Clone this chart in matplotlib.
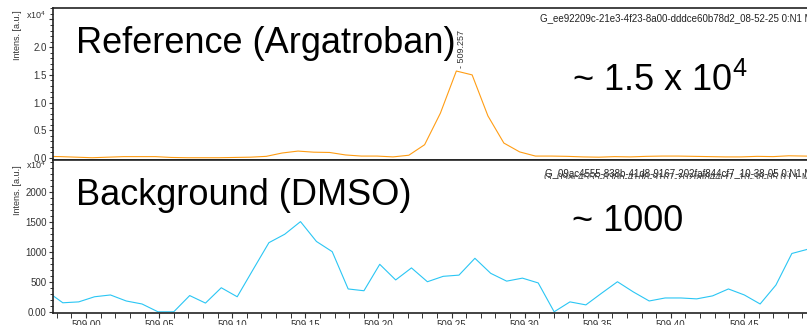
import matplotlib
matplotlib.use('Agg')
import matplotlib.pyplot as plt
from matplotlib.ticker import MultipleLocator, FixedLocator
from matplotlib.transforms import Bbox

plt.rcParams['font.family'] = ['Liberation Sans', 'DejaVu Sans']
plt.rcParams['mathtext.fontset'] = 'custom'
plt.rcParams['mathtext.rm'] = 'Liberation Sans'

# reference spectrum (Argatroban), m/z and intensity
ref_mz = [508.9717, 508.9825, 508.9933, 509.0042, 509.0150, 509.0258, 509.0367, 509.0475,
          509.0583, 509.0692, 509.0800, 509.0908, 509.1016, 509.1125, 509.1233, 509.1341,
          509.1450, 509.1558, 509.1666, 509.1775, 509.1883, 509.1991, 509.2100, 509.2208,
          509.2316, 509.2424, 509.2533, 509.2641, 509.2749, 509.2858, 509.2966, 509.3074,
          509.3183, 509.3291, 509.3399, 509.3508, 509.3616, 509.3724, 509.3832, 509.3941,
          509.4049, 509.4157, 509.4266, 509.4374, 509.4482, 509.4591, 509.4699, 509.4807,
          509.4916, 509.5024]
ref_int = [300, 250, 150, 50, 150, 250, 250, 250, 100, 50, 50, 50, 100, 150, 300, 900,
           1250, 1050, 1000, 550, 350, 350, 200, 500, 2400, 8100, 15700, 15000, 7600, 2700,
           1100, 350, 350, 300, 200, 150, 250, 200, 300, 350, 350, 300, 250, 200, 200, 300,
           250, 400, 350, 300]

# background spectrum (DMSO)
bg_mz = [508.9733, 508.9841, 508.9950, 509.0058, 509.0167, 509.0275, 509.0383, 509.0492,
         509.0600, 509.0709, 509.0817, 509.0925, 509.1034, 509.1142, 509.1251, 509.1359,
         509.1467, 509.1576, 509.1684, 509.1793, 509.1901, 509.2009, 509.2118, 509.2226,
         509.2335, 509.2443, 509.2551, 509.2660, 509.2768, 509.2877, 509.2985, 509.3093,
         509.3202, 509.3310, 509.3419, 509.3527, 509.3635, 509.3744, 509.3852, 509.3961,
         509.4069, 509.4177, 509.4286, 509.4394, 509.4503, 509.4611, 509.4719, 509.4828,
         509.4936]
bg_int = [340, 150, 165, 250, 280, 180, 130, 0, 0, 270, 145, 400, 250, 700, 1150, 1290,
          1500, 1170, 1000, 380, 350, 790, 530, 730, 500, 590, 610, 890, 640, 510, 560, 480,
          0, 165, 115, 310, 500, 330, 180, 230, 230, 215, 265, 380, 280, 130, 445, 970, 1040]

x_ticks = [509.00, 509.05, 509.10, 509.15, 509.20, 509.25, 509.30, 509.35, 509.40, 509.45]
x_ticklabels = ['509.00', '509.05', '509.10', '509.15', '509.20', '509.25', '509.30',
                '509.35', '509.40', '509.45']
ref_yticks = [0, 5000, 10000, 15000, 20000, 25000]
ref_yticklabels = ['0.0', '0.5', '1.0', '1.5', '2.0', '']
bg_yticks = [0, 500, 1000, 1500, 2000]
bg_yticklabels = ['0.00', '500', '1000', '1500', '2000']

peak_mz = 509.257
peak_label = '- 509.257'
ref_header = 'G_ee92209c-21e3-4f23-8a00-dddce60b78d2_08-52-25 0:N1 M'
bg_header = 'G_09ac4555-838b-41d8-9167-202faf844cf7_10-38-05 0:N1 M'
bg_header2 = 'G_09ac4555-838b-41d8-9167-202faf844cf7_10-38-05 0:L1 M'

W, H = 807, 325
fig = plt.figure(figsize=(W / 100, H / 100), dpi=100)

def px_box(left, top, right, bottom):
    # pixel box (from top-left) -> figure fraction rect
    return [left / W, 1 - bottom / H, (right - left) / W, (bottom - top) / H]

ax1 = fig.add_axes(px_box(53, 8, 817, 160))
ax2 = fig.add_axes(px_box(53, 160, 817, 313))

tick_color = '#333333'
for ax in (ax1, ax2):
    ax.set_xlim(508.9774, 509.5)
    for s in ax.spines.values():
        s.set_color('#222222')
        s.set_linewidth(1.2)
    ax.tick_params(axis='both', which='major', direction='out', length=3, width=0.8,
                   colors=tick_color, labelsize=7, pad=1.5)
    ax.tick_params(axis='both', which='minor', direction='out', length=2, width=0.7,
                   colors=tick_color)

# top panel
ax1.plot(ref_mz, ref_int, color='#ff9d14', lw=0.8)
ax1.set_ylim(-360, 27075)
ax1.yaxis.set_major_locator(FixedLocator(ref_yticks))
ax1.set_yticklabels(ref_yticklabels)
ax1.yaxis.set_minor_locator(MultipleLocator(1000))
ax1.set_xticks([])
ax1.annotate(peak_label, xy=(peak_mz, max(ref_int)), xytext=(0, 2), textcoords='offset points',
             rotation=90, ha='center', va='bottom', fontsize=6.5, color='#333333')

# bottom panel
ax2.plot(bg_mz, bg_int, color='#2ac6f4', lw=0.8)
ax2.set_ylim(-20, 2525)
ax2.yaxis.set_major_locator(FixedLocator(bg_yticks))
ax2.set_yticklabels(bg_yticklabels)
ax2.yaxis.set_minor_locator(MultipleLocator(100))
ax2.xaxis.set_major_locator(FixedLocator(x_ticks))
ax2.set_xticklabels(x_ticklabels)
ax2.xaxis.set_minor_locator(MultipleLocator(0.01))
ax2.tick_params(axis='x', which='major', length=3.5)
ax2.tick_params(axis='x', which='minor', length=3.5)

def ftext(x, y, s, **kw):
    return fig.text(x / W, 1 - y / H, s, **kw)

# big labels
ftext(76, 53, 'Reference (Argatroban)', fontsize=26, va='baseline')
ftext(572, 91, r'~ 1.5 x 10$^{\mathregular{4}}$', fontsize=26, va='baseline')
ftext(76, 205, 'Background (DMSO)', fontsize=26, va='baseline')
ftext(572, 231, '~ 1000', fontsize=26, va='baseline')

# headers
ftext(540, 21, ref_header, fontsize=7, va='baseline', color='#222222')
ftext(545, 176, bg_header, fontsize=7, va='baseline', color='#222222')
t2 = ftext(544, 180, bg_header2, fontsize=7, va='baseline', color='#444444', clip_on=True)
t2.set_clip_box(Bbox([[0, H - 179], [W, H - 170]]))

# axis labels and exponent
ftext(17, 35, 'Intens. [a.u.]', fontsize=6.5, rotation=90, ha='center', va='center', color='#333333')
ftext(17, 190, 'Intens. [a.u.]', fontsize=6.5, rotation=90, ha='center', va='center', color='#333333')
ftext(46, 15, r'x10$^{\mathregular{4}}$', fontsize=6.5, ha='right', va='center', color='#333333')
ftext(46, 165, r'x10$^{\mathregular{4}}$', fontsize=6.5, ha='right', va='center', color='#333333')

fig.savefig('out.png', dpi=100)
